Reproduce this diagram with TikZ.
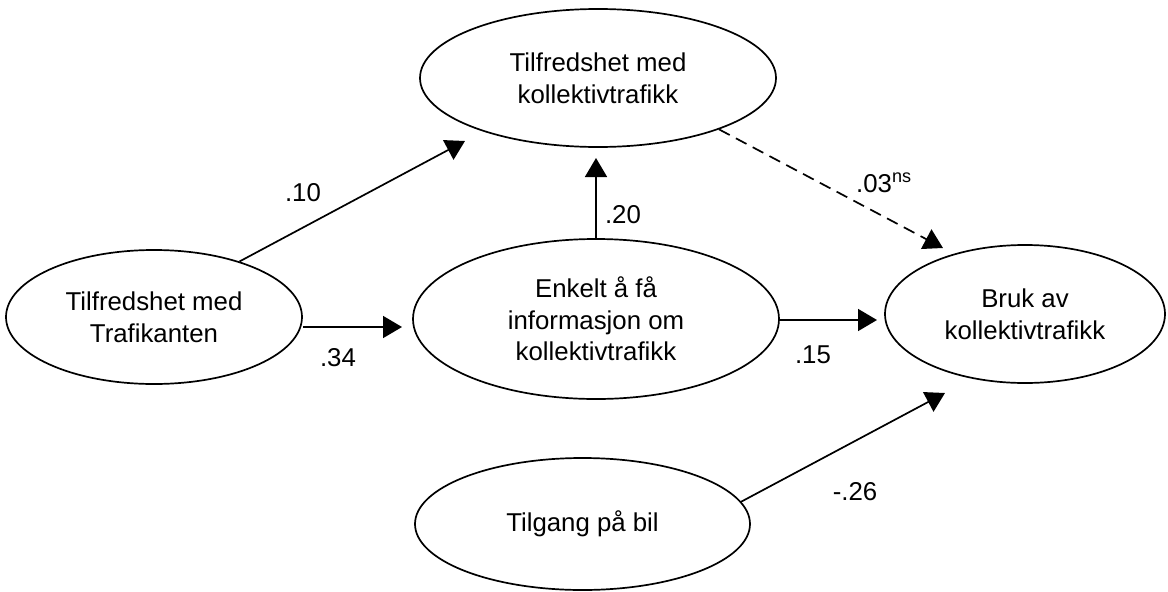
\documentclass[tikz,border=0pt]{standalone}
\usepackage{fontspec}
\setmainfont{Liberation Sans}
\usetikzlibrary{shapes.geometric,arrows.meta}
\begin{document}
\begin{tikzpicture}[x=1pt,y=-1pt,
  var/.style={ellipse,draw,line width=1.7pt,inner sep=0pt,align=center,
    font=\fontsize{25.8}{31.7}\selectfont},
  arr/.style={line width=1.7pt,-{Triangle[length=19pt,width=22pt]}},
  lbl/.style={font=\fontsize{25.8}{30}\selectfont,inner sep=0pt}]
\useasboundingbox (0,0) rectangle (1168,592);
\node[var,minimum width=356pt,minimum height=138pt] (T) at (598,78) {Tilfredshet med\\kollektivtrafikk};
\node[var,minimum width=296pt,minimum height=134pt] (L) at (154,317) {Tilfredshet med\\Trafikanten};
\node[var,minimum width=366pt,minimum height=160pt] (M) at (596,319) {Enkelt å få\\informasjon om\\kollektivtrafikk};
\node[var,minimum width=280pt,minimum height=138pt] (R) at (1025,314) {Bruk av\\kollektivtrafikk};
\node[var,minimum width=335pt,minimum height=132pt] (B) at (582.5,524) {Tilgang på bil};
\coordinate (t1) at (465,141);
\coordinate (t2) at (402,327);
\coordinate (t3) at (596,158);
\coordinate (t4) at (943,248);
\coordinate (t5) at (877,320);
\coordinate (t6) at (945,393);
\draw[arr] (L.33.5) -- (t1);
\draw[arr] (L.east |- t2) -- (t2);
\draw[arr] (M.north) -- (t3);
\draw[arr,dash pattern=on 12pt off 7pt] (T.-23.2) -- (t4);
\draw[arr] (M.east |- t5) -- (t5);
\draw[arr] (B.8.8) -- (t6);
\node[lbl] (l1) at (303,193) {.10};
\node[lbl] (l2) at (338,358) {.34};
\node[lbl] (l3) at (623,215) {.20};
\node[lbl,anchor=base west] (l4) at (856,192) {.03\textsuperscript{ns}};
\node[lbl] (l5) at (813,355) {.15};
\node[lbl] (l6) at (855,492) {-.26};
\end{tikzpicture}
\end{document}
